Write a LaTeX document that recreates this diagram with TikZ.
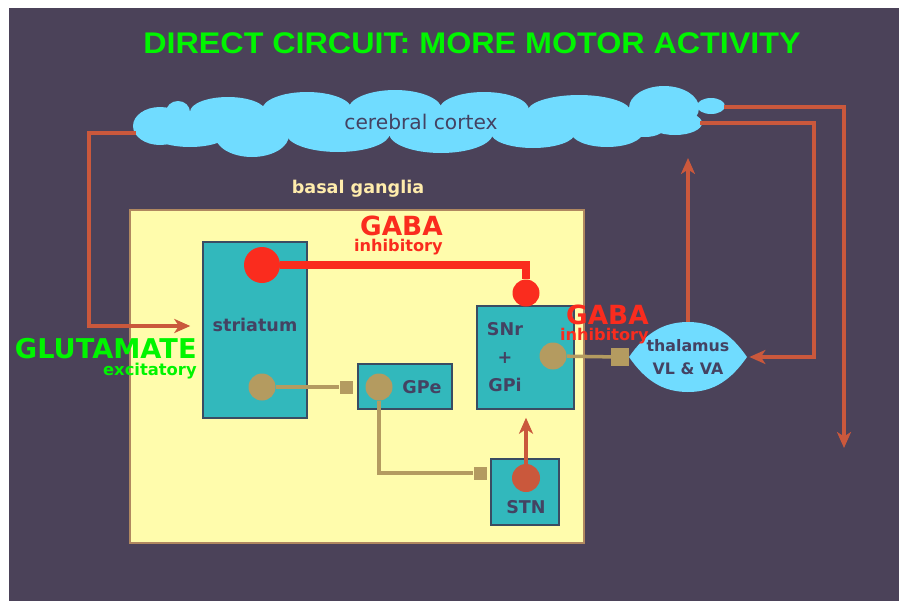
\documentclass[tikz,border=0pt]{standalone}
\usepackage{fontspec}
\setmainfont{DejaVu Sans}
\newfontfamily\titlefont{Liberation Sans}
\usetikzlibrary{shapes.geometric, arrows.meta, positioning, calc}
\definecolor{bgdark}{RGB}{75, 66, 89}
\definecolor{cortexblue}{RGB}{112, 220, 255}
\definecolor{inkdark}{RGB}{68, 66, 98}
\definecolor{bgyellow}{RGB}{255, 252, 172}
\definecolor{bgedge}{RGB}{176, 136, 96}
\definecolor{nucteal}{RGB}{50, 184, 188}
\definecolor{nucedge}{RGB}{58, 76, 98}
\definecolor{gabared}{RGB}{250, 44, 30}
\definecolor{synsand}{RGB}{180, 155, 96}
\definecolor{pathorange}{RGB}{202, 88, 60}
\definecolor{glugreen}{RGB}{0, 245, 0}
\definecolor{labelcream}{RGB}{255, 236, 172}
\tikzset{
    nucbox/.style={draw=nucedge, fill=nucteal, line width=0.8pt, inner sep=0pt},
    nuclabel/.style={font=\bfseries\fontsize{10}{12}\selectfont, text=inkdark},
    thalamus/.style={ellipse, inner sep=0pt, minimum width=23.6mm, minimum height=14mm, align=center,
        font=\bfseries\fontsize{9}{13.5}\selectfont, text=inkdark,
        path picture={\fill[cortexblue] (path picture bounding box.west) to[out=55, in=180] (path picture bounding box.north)
            to[out=0, in=125] (path picture bounding box.east) to[out=-125, in=0] (path picture bounding box.south)
            to[out=180, in=-55] cycle;}},
    puff/.style={fill=cortexblue},
    gabasyn/.style={circle, fill=gabared, inner sep=0pt},
    sandsyn/.style={circle, fill=synsand, inner sep=0pt, minimum size=5.4mm},
    sandend/.style={rectangle, fill=synsand, inner sep=0pt, minimum size=2.6mm},
    exline/.style={draw=pathorange, line width=2pt, -{Stealth[length=3.2mm, width=2.8mm, inset=0.9mm]}},
    sandline/.style={draw=synsand, line width=2pt},
    gabaline/.style={draw=gabared, line width=4.5pt},
    gabatag/.style={font=\bfseries\fontsize{15}{17}\selectfont, text=gabared, inner sep=0pt, anchor=base east},
    inhibtag/.style={font=\bfseries\fontsize{9.2}{10}\selectfont, text=gabared, inner sep=0pt, anchor=base east},
    glutag/.style={text=glugreen, inner sep=0pt, anchor=base east},
}
\begin{document}
\begin{tikzpicture}[x=0.2mm, y=-0.2mm]
    % Canvas
    \fill[white] (0,0) rectangle (899,601);
    \fill[bgdark] (9,8) rectangle (899,601);
    \node[font=\titlefont\bfseries\fontsize{17}{19}\selectfont, text=glugreen] (title) at (472,43) {\scalebox{1.08}[1]{DIRECT CIRCUIT: MORE MOTOR ACTIVITY}};

    % Cerebral cortex cloud
    \fill[puff] (165,112) rectangle (640,136);
    \foreach \cx/\cy/\rx/\ry in {160/126/27/19, 178/112/12/11, 228/112/38/15, 307/110/45/18, 395/110/47/20,
        484/110/45/18, 579/112/52/17, 664/108/35/22, 711/106/14/8, 190/132/40/15, 252/135/37/22,
        338/133/52/19, 441/133/52/20, 533/133/42/15, 607/132/36/15, 645/127/20/10, 675/123/27/12}
        \fill[puff] (\cx,\cy) ellipse [x radius=\rx, y radius=\ry];
    \node[font=\fontsize{11.5}{13}\selectfont, text=inkdark] (cortex) at (421,122) {cerebral cortex};
    \coordinate (ctxL) at (136,133);
    \coordinate (ctxR1) at (724,107);
    \coordinate (ctxR2) at (700,123);
    \coordinate (ctxB) at (688,158);
    \coordinate (spinal) at (844,448);

    % Basal ganglia
    \node[font=\bfseries\fontsize{10}{12}\selectfont, text=labelcream] (bgLabel) at (358,189) {basal ganglia};
    \node[draw=bgedge, fill=bgyellow, line width=0.6pt, minimum width=90.8mm, minimum height=66.6mm, inner sep=0pt] (bg) at (357,376.5) {};

    % Nuclei
    \node[nucbox, minimum width=20.8mm, minimum height=35.2mm] (striatum) at (255,330) {};
    \node[nuclabel] (strLabel) at (255,325) {striatum};
    \node[nucbox, minimum width=18.8mm, minimum height=9mm] (gpe) at (405,386.5) {};
    \node[nuclabel] (gpeLabel) at (422,387) {GPe};
    \node[nucbox, minimum width=19.4mm, minimum height=20.6mm] (snr) at (525.5,357.5) {};
    \node[nuclabel, align=center, font=\bfseries\fontsize{10}{16}\selectfont] (snrLabel) at (505,357) {SNr\\+\\GPi};
    \node[nucbox, minimum width=13.6mm, minimum height=13.2mm] (stn) at (525,492) {};
    \node[nuclabel] (stnLabel) at (526,507) {STN};
    \node[thalamus] (thal) at (688,357) {thalamus\\VL \& VA};

    % Synapses
    \node[gabasyn, minimum size=7.2mm] (strRed) at (262,265) {};
    \node[gabasyn, minimum size=5.4mm] (snrRed) at (526,293) {};
    \node[sandsyn] (strSand) at (262,387) {};
    \node[sandsyn] (gpeSand) at (379,387) {};
    \node[sandsyn] (snrSand) at (553,356) {};
    \node[circle, fill=pathorange, minimum size=5.6mm, inner sep=0pt] (stnRed) at (526,478) {};
    \node[sandend] (gpeEnd) at (346,387) {};
    \node[sandend] (stnEnd) at (480,473) {};
    \node[sandend, minimum size=3.5mm] (thalEnd) at (620,357) {};

    % Pathways
    \draw[gabaline] (strRed) -| (snrRed);
    \draw[sandline] (strSand) -- (gpeEnd);
    \draw[sandline] (gpeSand) |- (stnEnd);
    \draw[sandline] (snrSand) -- (thalEnd);
    \draw[exline, shorten >=1.6mm] (stnRed) -- (stnRed |- snr.south);
    \draw[exline] (ctxL) -- ++(-47,0) |- ([xshift=-2.4mm, yshift=0.8mm]striatum.west);
    \draw[exline] (thal.north) -- (thal.north |- ctxB);
    \draw[exline] (ctxR2) -- ++(114,0) |- ([xshift=0.4mm]thal.east);
    \draw[exline] (ctxR1) -| (spinal);

    % Transmitter tags
    \node[glutag, font=\bfseries\fontsize{15.5}{18}\selectfont] (glu) at (197,358) {GLUTAMATE};
    \node[glutag, font=\bfseries\fontsize{9.3}{11}\selectfont] (exc) at (197,375) {excitatory};
    \node[gabatag] (gaba1) at (443,235) {GABA};
    \node[inhibtag] (inhib1) at (443,251) {inhibitory};
    \node[gabatag] (gaba2) at (649,324) {GABA};
    \node[inhibtag] (inhib2) at (649,340) {inhibitory};
\end{tikzpicture}
\end{document}
